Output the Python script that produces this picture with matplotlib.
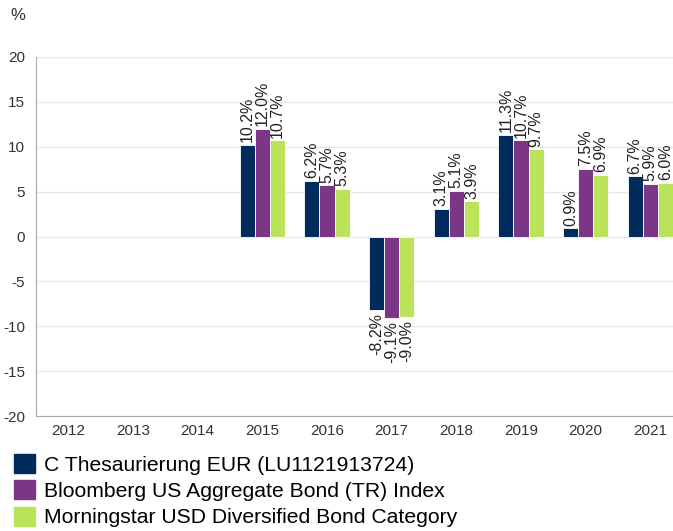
import numpy as np
import matplotlib.pyplot as plt
from matplotlib.patches import Patch

plt.rcParams['font.family'] = ['Liberation Sans', 'DejaVu Sans']
plt.rcParams['axes.unicode_minus'] = False

years = ['2012', '2013', '2014', '2015', '2016', '2017', '2018', '2019', '2020', '2021']
fund = [None, None, None, 10.2, 6.2, -8.2, 3.1, 11.3, 0.9, 6.7]
index = [None, None, None, 12.0, 5.7, -9.1, 5.1, 10.7, 7.5, 5.9]
category = [None, None, None, 10.7, 5.3, -9.0, 3.9, 9.7, 6.9, 6.0]

names = ['C Thesaurierung EUR (LU1121913724)',
         'Bloomberg US Aggregate Bond (TR) Index',
         'Morningstar USD Diversified Bond Category']
colors = ['#002b5c', '#7b3685', '#bae35a']

fig = plt.figure(figsize=(6.73, 5.31), dpi=100)
ax = fig.add_axes([36 / 673, 115 / 531, 1 - 36 / 673, 359 / 531])

x = np.arange(len(years))
w = 0.235
for i, (vals, c) in enumerate(zip([fund, index, category], colors)):
    for j, v in enumerate(vals):
        if v is None:
            continue
        xp = x[j] + (i - 1) * w
        ax.bar(xp, v, w, color=c, edgecolor='white', linewidth=0.6, zorder=3)
        if v >= 0:
            ax.text(xp, v + 0.3, f'{v:.1f}%', rotation=90, ha='center', va='bottom',
                    fontsize=11.5, color='#222222', zorder=4)
        else:
            ax.text(xp, v - 0.3, f'{v:.1f}%', rotation=90, ha='center', va='top',
                    fontsize=11.5, color='#222222', zorder=4)

ax.set_xlim(-0.5, 9.35)
ax.set_ylim(-20, 20)
ax.set_yticks(range(-20, 21, 5))
ax.set_xticks(x)
ax.set_xticklabels(years)
ax.grid(axis='y', color='#e6e6e6', linewidth=1, zorder=0)
for s in ['top', 'right']:
    ax.spines[s].set_visible(False)
ax.spines['left'].set_color('#aaaaaa')
ax.spines['bottom'].set_color('#aaaaaa')
ax.tick_params(axis='both', length=0, labelsize=11, labelcolor='#333333')
ax.tick_params(axis='y', pad=8)
ax.tick_params(axis='x', pad=6)

fig.text(10 / 673, 1 - 15 / 531, '%', fontsize=12, color='#333333', va='center')

handles = [Patch(color=c) for c in colors]
fig.legend(handles, names, loc='upper left', bbox_to_anchor=(14 / 673, 1 - 454 / 531),
           frameon=False, fontsize=15.2, handlelength=1.0, handleheight=1.0,
           handletextpad=0.4, labelspacing=0.27, borderaxespad=0, borderpad=0)

fig.savefig('out.png', dpi=100)
